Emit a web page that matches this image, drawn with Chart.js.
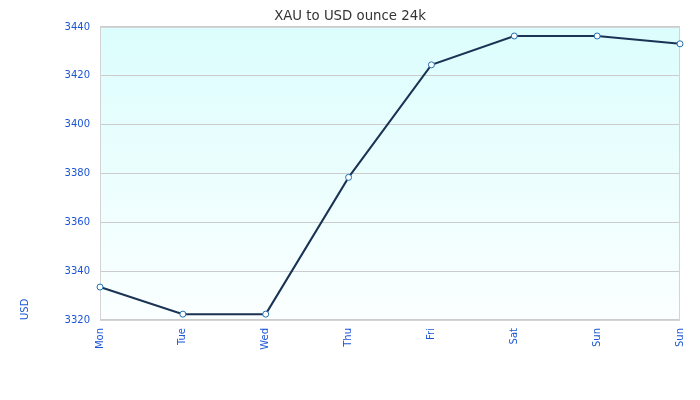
<!DOCTYPE html>
<html>
<head>
<meta charset="utf-8">
<script src="https://cdn.jsdelivr.net/npm/chart.js@4"></script>
<style>
  html, body { margin: 0; padding: 0; background: #fff; }
  #wrap { width: 700px; height: 400px; }
</style>
</head>
<body>
<div id="wrap"><canvas id="goldChart" width="700" height="400"></canvas></div>
<script>
// данные с графика
const days = ['Mon', 'Tue', 'Wed', 'Thu', 'Fri', 'Sat', 'Sun', 'Sun'];
const prices = [3333.5, 3322.4, 3322.4, 3378.4, 3424.5, 3436.3, 3436.3, 3433.1];
const yTicks = [3320, 3340, 3360, 3380, 3400, 3420, 3440];

const tickBlue = '#1c55d6';
const tickFont = { family: 'DejaVu Sans', size: 10 };

// фон области графика: градиент + рамка
const plotBg = {
    id: 'plotBg',
    beforeDraw(chart) {
        const a = chart.chartArea;
        const ctx = chart.ctx;
        const g = ctx.createLinearGradient(0, a.top, 0, a.bottom);
        g.addColorStop(0, '#dcfdfd');
        g.addColorStop(1, '#fbffff');
        ctx.save();
        ctx.fillStyle = g;
        ctx.fillRect(a.left, a.top, a.right - a.left, a.bottom - a.top);
        ctx.restore();
    },
    beforeDatasetsDraw(chart) {
        const a = chart.chartArea;
        const ctx = chart.ctx;
        ctx.save();
        ctx.strokeStyle = '#d4d4d4';
        ctx.lineWidth = 1;
        ctx.strokeRect(a.left + 0.5, a.top + 0.5, a.right - a.left - 1, a.bottom - a.top);
        ctx.restore();
    }
};

new Chart(document.getElementById('goldChart').getContext('2d'), {
    type: 'line',
    data: {
        labels: days,
        datasets: [{
            label: 'XAU',
            data: prices,
            borderColor: '#1a3354',
            borderWidth: 2,
            pointRadius: 3,
            pointBackgroundColor: '#ffffff',
            pointBorderColor: '#1f6fb2',
            pointBorderWidth: 1,
            tension: 0,
            fill: false
        }]
    },
    options: {
        responsive: false,
        animation: false,
        layout: { padding: 0 },
        plugins: {
            legend: { display: false },
            tooltip: { enabled: false },
            title: {
                display: true,
                text: 'XAU to USD ounce 24k',
                color: '#333333',
                font: { family: 'DejaVu Sans', size: 13.3, weight: 'normal' },
                padding: { top: 9, bottom: 2 }
            }
        },
        scales: {
            x: {
                offset: false,
                afterFit(scale) { scale.height = 80; },
                grid: { display: false, drawTicks: false },
                border: { display: false },
                ticks: {
                    color: tickBlue,
                    font: tickFont,
                    maxRotation: 90,
                    minRotation: 90,
                    autoSkip: false,
                    padding: 8
                }
            },
            y: {
                min: 3320,
                max: 3440,
                afterBuildTicks(scale) {
                    scale.ticks = yTicks.map(v => ({ value: v }));
                },
                afterFit(scale) { scale.width = 100; },
                grid: { color: '#cccccc', drawTicks: false },
                border: { display: false },
                ticks: {
                    color: tickBlue,
                    font: tickFont,
                    padding: 10,
                    callback: v => String(v)
                },
                title: {
                    display: true,
                    text: 'USD',
                    align: 'start',
                    color: tickBlue,
                    font: tickFont,
                    padding: { top: 19, bottom: 0 }
                }
            },
            // пустая правая ось — только отступ справа
            yRight: {
                position: 'right',
                afterFit(scale) { scale.width = 20; },
                grid: { display: false, drawTicks: false },
                border: { display: false },
                ticks: { display: false }
            }
        }
    },
    plugins: [plotBg]
});
</script>
</body>
</html>
